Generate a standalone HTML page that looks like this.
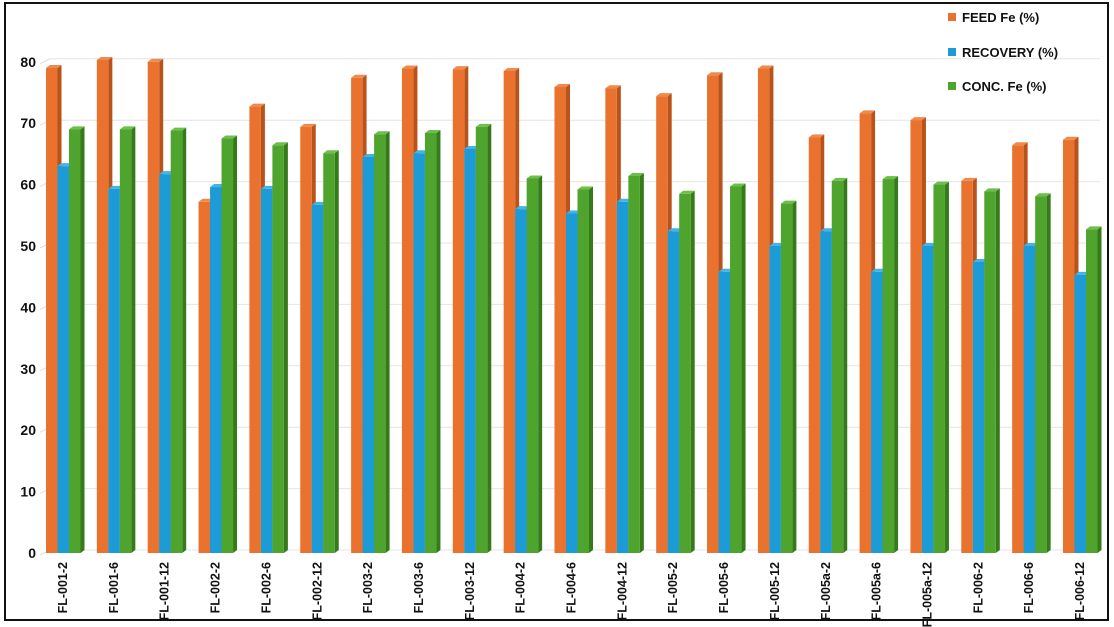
<!DOCTYPE html>
<html><head><meta charset="utf-8"><style>
body{margin:0;background:#fff;}
svg{display:block;font-family:"Liberation Sans",Arial,sans-serif;}
</style></head><body>
<svg id="c" width="1114" height="627">
<rect x="5" y="3" width="1103" height="617" fill="#fff" stroke="#111" stroke-width="2"/>
<g id="grid"></g><g id="bars"></g><g id="labels"></g>
<g font-size="13" font-weight="bold" fill="#111">
<g><rect x="948" y="13" width="8" height="8" fill="#e8722e"/><text x="962" y="22">FEED Fe (%)</text></g>
<g><rect x="948" y="48" width="8" height="8" fill="#1c9bd6"/><text x="962" y="57">RECOVERY (%)</text></g>
<g><rect x="948" y="82" width="8" height="8" fill="#4ea42c"/><text x="962" y="91">CONC. Fe (%)</text></g>
</g>
</svg>
<script>
const categories=["FL-001-2","FL-001-6","FL-001-12","FL-002-2","FL-002-6","FL-002-12","FL-003-2","FL-003-6","FL-003-12","FL-004-2","FL-004-6","FL-004-12","FL-005-2","FL-005-6","FL-005-12","FL-005a-2","FL-005a-6","FL-005a-12","FL-006-2","FL-006-6","FL-006-12"];
const feedFe=[79,80.3,80,57.2,72.7,69.4,77.4,78.9,78.8,78.5,75.9,75.7,74.4,77.8,78.9,67.7,71.6,70.5,60.6,66.4,67.3];
const recovery=[63,59.3,61.7,59.6,59.3,56.7,64.5,65.1,65.8,56,55.3,57.2,52.4,45.8,50,52.4,45.8,50,47.4,50,45.3];
const concFe=[69,69,68.8,67.5,66.4,65.1,68.2,68.4,69.4,61,59.2,61.4,58.5,59.7,56.9,60.6,60.9,60,58.9,58.1,52.7];
const yTicks=[0,10,20,30,40,50,60,70,80];
const NS="http://www.w3.org/2000/svg";
const y=v=>553-v*6.14;
const x=i=>46+i*50.85;
const bw=11.5,dx=4,dy=3;
function mk(t,a,p){const e=document.createElementNS(NS,t);for(const k in a)e.setAttribute(k,a[k]);p.appendChild(e);return e;}
const grid=document.getElementById('grid'),bars=document.getElementById('bars'),labels=document.getElementById('labels');
yTicks.forEach(t=>{
 const g=mk('line',{x1:40,y1:y(t)+2,x2:50,y2:y(t)-3,stroke:'#ddd'},grid);
 
 const l=mk('line',{x1:50,y1:y(t)-3,x2:1100,y2:y(t)-3,stroke:'#e4e4e4'},grid);
 
 const tx=mk('text',{x:36,y:y(t)+5,'text-anchor':'end','font-size':14,'font-weight':'bold',fill:'#111'},labels);
 tx.textContent=t;
 
});
const series=[[feedFe,'#e8722e','#b9531c','#f08a4c','feed'],[recovery,'#1c9bd6','#11709e','#46b3e6','recovery'],[concFe,'#4ea42c','#357a1b','#6cbf48','conc']];
categories.forEach((c,i)=>{
 series.forEach((s,j)=>{
  const v=s[0][i],x0=x(i)+j*bw,yt=y(v),yb=553;
  const g=mk('g',{},bars);
  
  mk('polygon',{points:`${x0+bw},${yt} ${x0+bw+dx},${yt-dy} ${x0+bw+dx},${yb-dy} ${x0+bw},${yb}`,fill:s[2]},g);
  mk('polygon',{points:`${x0},${yt} ${x0+dx},${yt-dy} ${x0+bw+dx},${yt-dy} ${x0+bw},${yt}`,fill:s[3]},g);
  mk('rect',{x:x0,y:yt,width:bw,height:yb-yt,fill:s[1]},g);
 });
 const cx=x(i)+17+4;
 const t=mk('text',{x:0,y:0,transform:`translate(${cx},562) rotate(-90)`,'text-anchor':'end','font-size':12.5,'font-weight':'bold',fill:'#111'},labels);
 t.textContent=c;
 
});
</script>
</body></html>
